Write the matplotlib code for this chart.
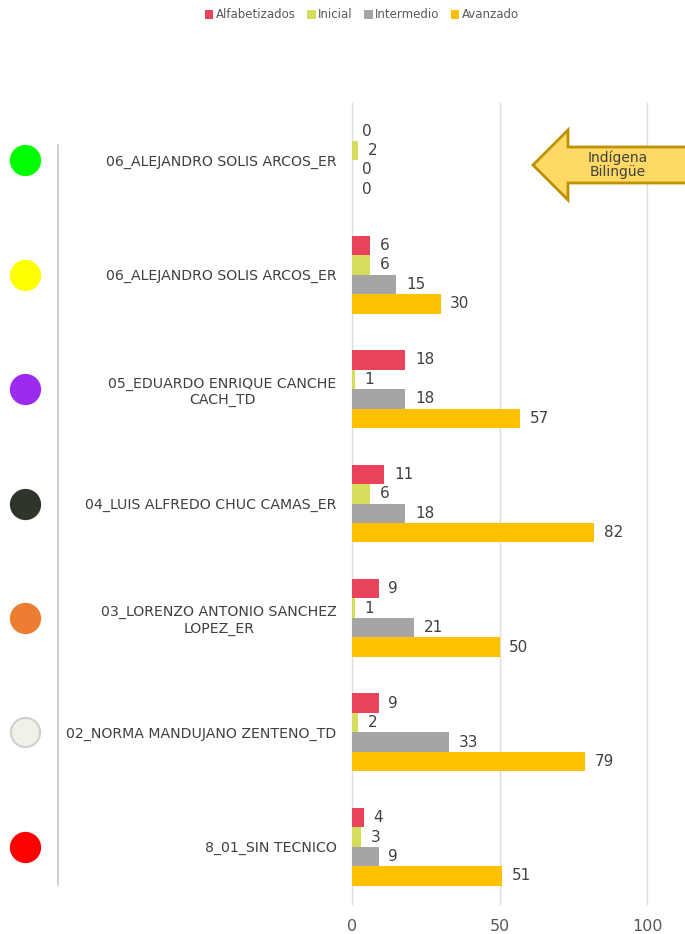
import matplotlib.pyplot as plt
import numpy as np
from matplotlib.patches import Polygon
from matplotlib.lines import Line2D
from matplotlib.transforms import blended_transform_factory

plt.rcParams['font.family'] = ['DejaVu Sans']

categories = ["06_ALEJANDRO SOLIS ARCOS_ER",
              "06_ALEJANDRO SOLIS ARCOS_ER",
              "05_EDUARDO ENRIQUE CANCHE\nCACH_TD",
              "04_LUIS ALFREDO CHUC CAMAS_ER",
              "03_LORENZO ANTONIO SANCHEZ\nLOPEZ_ER",
              "02_NORMA MANDUJANO ZENTENO_TD",
              "8_01_SIN TECNICO"]
alfabetizados = [0, 6, 18, 11, 9, 9, 4]
inicial = [2, 6, 1, 6, 1, 2, 3]
intermedio = [0, 15, 18, 18, 21, 33, 9]
avanzado = [0, 30, 57, 82, 50, 79, 51]
series_names = ["Alfabetizados", "Inicial", "Intermedio", "Avanzado"]
series_colors = ["#E8435A", "#D6DC5C", "#A5A5A5", "#FFC000"]
circle_colors = ["#00FF00", "#FFFF00", "#9B2BEE", "#30352B", "#ED7D31", "#F1F1EA", "#FF0000"]
circle_edges = ["#00FF00", "#FFFF00", "#9B2BEE", "#30352B", "#ED7D31", "#D0D0D0", "#FF0000"]

W, H = 685, 934
fig = plt.figure(figsize=(W / 100, H / 100), dpi=100)
ax = fig.add_axes([352 / W, 1 - 904 / H, 295 / W, 801 / H])

series = [alfabetizados, inicial, intermedio, avanzado]
n = len(categories)
y = np.arange(n)
bh = 0.17
offsets = (np.arange(4) - 1.5) * bh
for vals, off, col, name in zip(series, offsets, series_colors, series_names):
    ax.barh(y + off, vals, height=bh, color=col, label=name, zorder=3)
    for yy, v in zip(y + off, vals):
        ax.annotate(str(v), (v, yy), xytext=(7, 0), textcoords='offset points',
                    va='center', ha='left', fontsize=11, color='#404040')

ax.set_ylim(n - 0.5, -0.5)
ax.set_xlim(0, 100)
ax.set_xticks([0, 50, 100])
ax.grid(axis='x', color='#DDDDDD', linewidth=1.0, zorder=0)
for gl in ax.get_xgridlines():
    gl.set_clip_on(False)
for s in ax.spines.values():
    s.set_visible(False)
ax.tick_params(axis='x', length=0, labelsize=11.5, labelcolor='#595959', pad=11)
ax.set_yticks(y)
ax.set_yticklabels(categories, fontsize=10.2, color='#404040', multialignment='center')
ax.tick_params(axis='y', length=0, pad=11)

# colored circles on the left
tr = blended_transform_factory(fig.transFigure, ax.transData)
for yy, fc, ec in zip(y, circle_colors, circle_edges):
    ax.plot([25 / W], [yy], marker='o', markersize=21, markerfacecolor=fc,
            markeredgecolor=ec, markeredgewidth=1.5, transform=tr, clip_on=False)

fig.add_artist(Line2D([58 / W, 58 / W], [1 - 145 / H, 1 - 885 / H],
                      transform=fig.transFigure, color='#C8C8C8', linewidth=1.2))

# arrow callout
pts = [(533, 165), (568, 130), (568, 147), (690, 147), (690, 183), (568, 183), (568, 200)]
arrow = Polygon([(px / W, 1 - py / H) for px, py in pts], closed=True,
                facecolor='#FFD966', edgecolor='#BF9000', linewidth=2,
                transform=fig.transFigure)
fig.add_artist(arrow)
fig.text(618 / W, 1 - 165 / H, "Indígena\nBilingüe", ha='center', va='center',
         fontsize=10, color='#404040', linespacing=1.0)

fig.legend(loc='center', bbox_to_anchor=(362 / W, 1 - 15 / H), ncol=4, frameon=False,
           fontsize=8.5, handlelength=0.7, handleheight=0.7, handletextpad=0.2,
           columnspacing=1.0, labelcolor='#595959')

fig.savefig('out.png', dpi=100)
